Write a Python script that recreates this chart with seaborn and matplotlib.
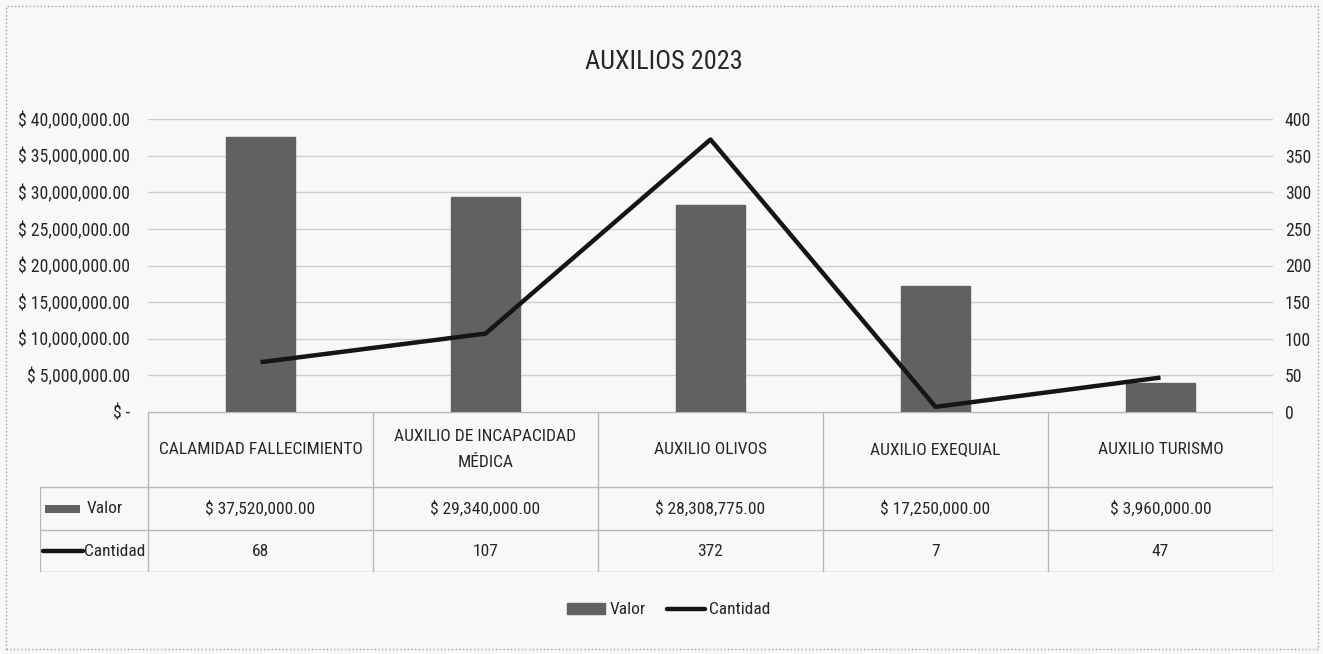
import textwrap
import numpy as np
import pandas as pd
import matplotlib
matplotlib.use("Agg")
import matplotlib.pyplot as plt
import matplotlib.font_manager as fm
from matplotlib.patches import Rectangle, Patch
from matplotlib.lines import Line2D
from matplotlib.ticker import FuncFormatter
import seaborn as sns

# ---------------- data ----------------
categories = ["CALAMIDAD FALLECIMIENTO", "AUXILIO DE INCAPACIDAD MÉDICA",
              "AUXILIO OLIVOS", "AUXILIO EXEQUIAL", "AUXILIO TURISMO"]
valor = [37520000.00, 29340000.00, 28308775.00, 17250000.00, 3960000.00]
cantidad = [68, 107, 372, 7, 47]
series_names = ["Valor", "Cantidad"]
title = "AUXILIOS 2023"
left_ticks = [0, 5e6, 10e6, 15e6, 20e6, 25e6, 30e6, 35e6, 40e6]
right_ticks = [0, 50, 100, 150, 200, 250, 300, 350, 400]

# ---------------- style ----------------
sns.set_theme(style="white")
names = {f.name for f in fm.fontManager.ttflist}
font = "DejaVu Sans"
for cand in ["Liberation Sans Narrow", "Roboto Condensed", "Open Sans Condensed",
             "Noto Sans Condensed", "DejaVu Sans Condensed"]:
    if cand in names:
        font = cand
        break
plt.rcParams["font.family"] = [font, "DejaVu Sans"]
if font == "DejaVu Sans":
    plt.rcParams["font.stretch"] = "condensed"

W, H = 1323, 654
BG = "#f8f8f8"
TXT = "#262626"
GRID = "#cfcfcf"
BAR = "#616161"

fig = plt.figure(figsize=(W / 100, H / 100), dpi=100, facecolor=BG)

def fx(px):
    return px / W

def fy(py):
    return 1 - py / H

# plot area
x0, x1, ytop, ybot = 148, 1273, 119, 412
ax = fig.add_axes([fx(x0), fy(ybot), fx(x1 - x0), (ybot - ytop) / H])
ax.set_facecolor("none")

df = pd.DataFrame({"cat": categories, "valor": valor, "cantidad": cantidad})
sns.barplot(data=df, x="cat", y="valor", ax=ax, color=BAR, width=0.31,
            saturation=1, edgecolor=BAR, zorder=2)
ax.set_xlim(-0.5, len(categories) - 0.5)
ax.set_ylim(0, 40e6)
ax.set_yticks(left_ticks)

def money(v, pos=None):
    if v == 0:
        return "$ -"
    return "$ {:,.2f}".format(v)

ax.yaxis.set_major_formatter(FuncFormatter(money))
ax.tick_params(axis="y", length=0, pad=13, labelsize=12.7, labelcolor=TXT)
ax.set_xticks([])
ax.set_xlabel("")
ax.set_ylabel("")
ax.grid(axis="y", color=GRID, lw=1, zorder=0)
ax.set_axisbelow(True)
for s in ax.spines.values():
    s.set_visible(False)

ax2 = ax.twinx()
sns.lineplot(x=df.index, y=df["cantidad"], ax=ax2, color="#151515", lw=3.2,
             zorder=3, solid_capstyle="butt")
ax2.set_ylim(0, 400)
ax2.set_yticks(right_ticks)
ax2.tick_params(axis="y", length=0, pad=8.5, labelsize=12.7, labelcolor=TXT)
ax2.set_ylabel("")
ax2.set_xlim(-0.5, len(categories) - 0.5)
for s in ax2.spines.values():
    s.set_visible(False)

# ---------------- data table ----------------
tl, tb = 40, 572
rows_h = [75, 43, 42]  # header, Valor, Cantidad
label_w = (x0 - tl) / ((x1 - x0) / len(categories))
tax = fig.add_axes([fx(tl), fy(tb), fx(x1 - tl), (tb - ybot) / H])
tax.set_xlim(-0.5 - label_w, len(categories) - 0.5)
tax.set_ylim(sum(rows_h), 0)
tax.axis("off")
tax.patch.set_visible(False)

lc = "#b8b8b8"
yb = np.cumsum([0] + rows_h)
L = -0.5 - label_w
R = len(categories) - 0.5
tax.plot([-0.5, R], [0, 0], color=lc, lw=1)
for y in yb[1:]:
    tax.plot([L, R], [y, y], color=lc, lw=1)
tax.plot([L, L], [yb[1], yb[-1]], color=lc, lw=1)
for i in range(len(categories) + 1):
    tax.plot([i - 0.5, i - 0.5], [0, yb[-1]], color=lc, lw=1)

fs = 12.5
for i, c in enumerate(categories):
    tax.text(i, (yb[0] + yb[1]) / 2, textwrap.fill(c, 23), ha="center",
             va="center", fontsize=fs, color=TXT, linespacing=1.85)
    tax.text(i, (yb[1] + yb[2]) / 2, money(valor[i]), ha="center",
             va="center", fontsize=fs, color=TXT)
    tax.text(i, (yb[2] + yb[3]) / 2, str(cantidad[i]), ha="center",
             va="center", fontsize=fs, color=TXT)

# row legends
unit = 1 / ((x1 - x0) / len(categories))  # data units per pixel
ym = (yb[1] + yb[2]) / 2
tax.add_patch(Rectangle((L + 5 * unit, ym - 4), 35 * unit, 8, color=BAR, lw=0))
tax.text(L + 47 * unit, ym, series_names[0], ha="left", va="center",
         fontsize=fs, color=TXT)
ym2 = (yb[2] + yb[3]) / 2
tax.plot([L + 3 * unit, L + 43 * unit], [ym2, ym2], color="#151515", lw=3.2)
tax.text(L + 44 * unit, ym2, series_names[1], ha="left", va="center",
         fontsize=fs, color=TXT)

# ---------------- title / legend / border ----------------
fig.text(fx(664), fy(62), title, ha="center", va="center", fontsize=19,
         color=TXT)

handles = [Patch(facecolor=BAR, edgecolor=BAR),
           Line2D([0], [0], color="#151515", lw=3.2)]
fig.legend(handles, series_names, loc="center", bbox_to_anchor=(fx(669), fy(610)),
           ncol=2, frameon=False, fontsize=12.5, handlelength=2.2,
           handleheight=0.6, handletextpad=0.25, columnspacing=1.2,
           labelcolor=TXT)

fig.patches.append(Rectangle((fx(6), fy(649)), fx(1318 - 6), (649 - 6) / H,
                             transform=fig.transFigure, fill=False,
                             edgecolor="#a0a0a0", lw=1, ls=":"))

fig.savefig("out.png", dpi=100, facecolor=BG)
